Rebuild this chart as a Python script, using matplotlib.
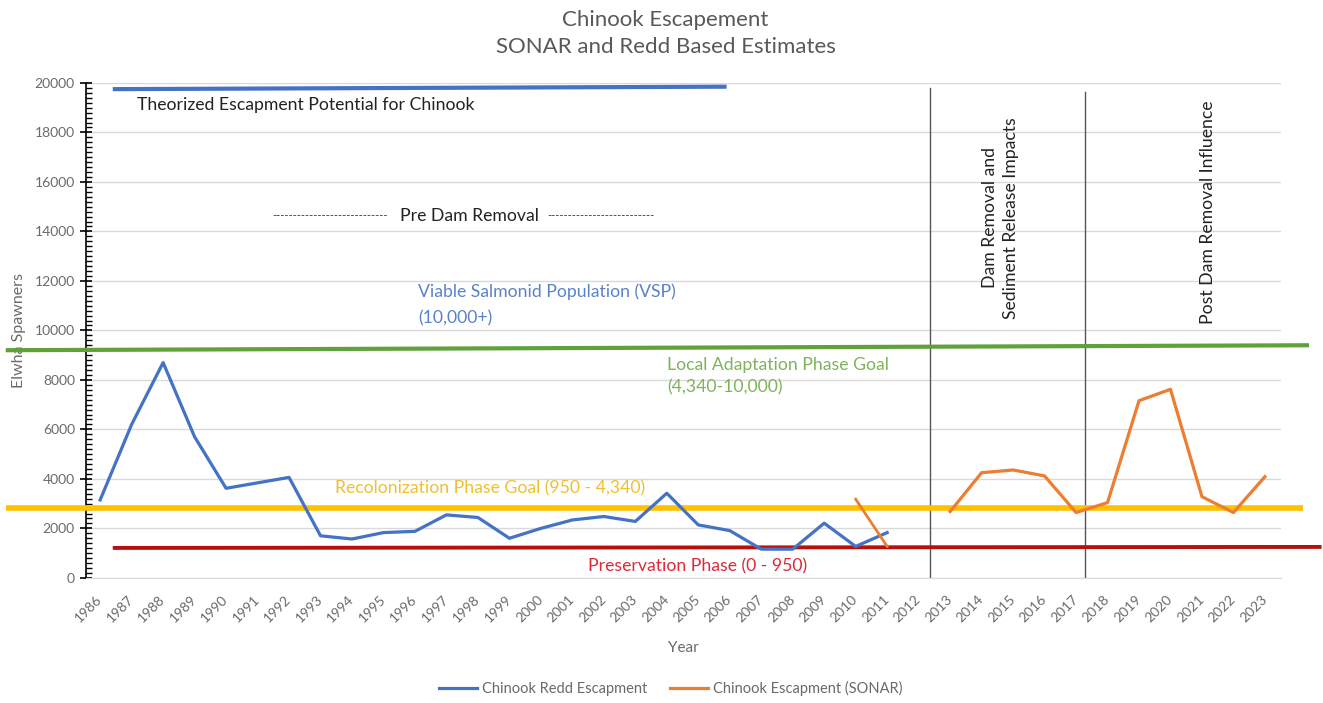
import matplotlib
matplotlib.use("Agg")
import matplotlib.pyplot as plt
from matplotlib.lines import Line2D
from matplotlib.ticker import MultipleLocator

plt.rcParams['font.family'] = ['Lato', 'DejaVu Sans']

# ---- data -------------------------------------------------------------
years = list(range(1986, 2024))

redd_years = list(range(1986, 2012))
redd_values = [3150, 6200, 8700, 5700, 3620, 3840, 4060, 1700, 1570, 1830,
               1880, 2545, 2440, 1600, 2000, 2340, 2480, 2280, 3420, 2140,
               1910, 1160, 1160, 2210, 1270, 1830]

sonar_years_a = [2010, 2011]
sonar_values_a = [3180, 1270]
sonar_years_b = list(range(2013, 2024))
sonar_values_b = [2680, 4250, 4360, 4120, 2640, 3040, 7160, 7620, 3280, 2640, 4090]

# reference levels: (start year, end year) and (start value, end value)
theorized_span = [1986.4, 2005.9]
theorized_level = [19750, 19850]
local_span = [1983.0, 2024.4]
local_level = [9200, 9400]
recolonization_span = [1983.0, 2024.2]
recolonization_level = [2830, 2830]
preservation_span = [1986.4, 2024.8]
preservation_level = [1210, 1250]

phase_breaks = [2012.36, 2017.3]
phase_break_tops = [19800, 19650]

y_ticks = list(range(0, 20001, 2000))

# ---- figure -----------------------------------------------------------
fig = plt.figure(figsize=(13.23, 7.03), dpi=100)
ax = fig.add_axes([0.065, 0.178, 0.903, 0.704])

blue = '#4472C4'
orange = '#ED7D31'
green = '#5FA13A'
yellow = '#FFC000'
red = '#B80F0F'
grey_text = '#6a6a6a'
note_size = 12.7

ax.set_xlim(1985.55, 2023.5)
ax.set_ylim(0, 20000)

ax.yaxis.grid(True, color='#d9d9d9', linewidth=1.0)
ax.set_axisbelow(True)

# reference lines
ax.plot(theorized_span, theorized_level, color=blue, lw=3.0,
        solid_capstyle='butt', clip_on=False, zorder=3)
ax.plot(local_span, local_level, color=green, lw=3.0,
        solid_capstyle='butt', clip_on=False, zorder=3)
ax.plot(recolonization_span, recolonization_level, color=yellow, lw=4.0,
        solid_capstyle='butt', clip_on=False, zorder=3)
ax.plot(preservation_span, preservation_level, color=red, lw=2.8,
        solid_capstyle='butt', clip_on=False, zorder=3)

# phase separators
for xb, top in zip(phase_breaks, phase_break_tops):
    ax.plot([xb, xb], [0, top], color='#555555', lw=1.0, zorder=2)

# series
ax.plot(redd_years, redd_values, color=blue, lw=2.3, zorder=4)
ax.plot(sonar_years_a, sonar_values_a, color=orange, lw=2.0, zorder=4)
ax.plot(sonar_years_b, sonar_values_b, color=orange, lw=2.3, zorder=4)

# axes styling
for s in ['top', 'right']:
    ax.spines[s].set_visible(False)
ax.spines['bottom'].set_color('#d9d9d9')
ax.spines['left'].set_color('black')
ax.spines['left'].set_linewidth(1.2)

ax.set_yticks(y_ticks)
ax.set_yticklabels([str(v) for v in y_ticks])
ax.yaxis.set_minor_locator(MultipleLocator(200))
ax.tick_params(axis='y', which='major', direction='inout', length=8,
               width=1.2, labelsize=10, labelcolor=grey_text, pad=4)
ax.tick_params(axis='y', which='minor', direction='in', length=4, width=1.0)

ax.set_xticks(years)
ax.set_xticklabels([str(y) for y in years], rotation=45, ha='right',
                   va='center', rotation_mode='anchor')
ax.tick_params(axis='x', length=0, labelsize=10, labelcolor=grey_text, pad=14)

ax.set_xlabel('Year', fontsize=11, color=grey_text, labelpad=12)
ax.set_ylabel('Elwha Spawners', fontsize=11.5, color=grey_text, labelpad=6)

# titles
fig.text(0.503, 0.972, 'Chinook Escapement', ha='center', va='center',
         fontsize=16, color='#595959')
fig.text(0.503, 0.933, 'SONAR and Redd Based Estimates', ha='center',
         va='center', fontsize=16, color='#595959')

# annotations
ax.text(1987.17, 19110, 'Theorized Escapment Potential for Chinook',
        fontsize=note_size, color='#222222', va='center', ha='left')
ax.text(1991.46, 14630, '-' * 28, fontsize=8, color='#333333',
        va='center', ha='left')
ax.text(1995.52, 14630, 'Pre Dam Removal', fontsize=note_size,
        color='#222222', va='center', ha='left')
ax.text(2000.2, 14630, '-' * 26, fontsize=8, color='#333333',
        va='center', ha='left')
ax.text(1996.1, 11560, 'Viable Salmonid Population (VSP)',
        fontsize=note_size, color='#5b82c9', va='center', ha='left')
ax.text(1996.1, 10500, '(10,000+)',
        fontsize=note_size, color='#5b82c9', va='center', ha='left')
ax.text(2004.0, 8600, 'Local Adaptation Phase Goal',
        fontsize=note_size, color='#7fb35a', va='center', ha='left')
ax.text(2004.0, 7680, '(4,340-10,000)',
        fontsize=note_size, color='#7fb35a', va='center', ha='left')
ax.text(1993.45, 3600, 'Recolonization Phase Goal (950 - 4,340)',
        fontsize=note_size, color='#f0c030', va='center', ha='left')
ax.text(2001.5, 480, 'Preservation Phase (0 - 950)',
        fontsize=note_size, color='#dc2a3a', va='center', ha='left')
ax.text(2014.6, 14545, 'Dam Removal and\nSediment Release Impacts',
        fontsize=note_size, color='#222222', rotation=90, ha='center',
        va='center', linespacing=1.35)
ax.text(2021.2, 14790, 'Post Dam Removal Influence',
        fontsize=note_size, color='#222222', rotation=90, ha='center',
        va='center')

# legend
handles = [Line2D([], [], color=blue, lw=2.3),
           Line2D([], [], color=orange, lw=2.3)]
leg = fig.legend(handles, ['Chinook Redd Escapment', 'Chinook Escapment (SONAR)'],
                 loc='center', bbox_to_anchor=(0.507, 0.021), ncol=2,
                 frameon=False, fontsize=10.5, handlelength=2.6,
                 columnspacing=1.6, handletextpad=0.3)
for t in leg.get_texts():
    t.set_color(grey_text)

fig.savefig('out.png', dpi=100, facecolor='white')
